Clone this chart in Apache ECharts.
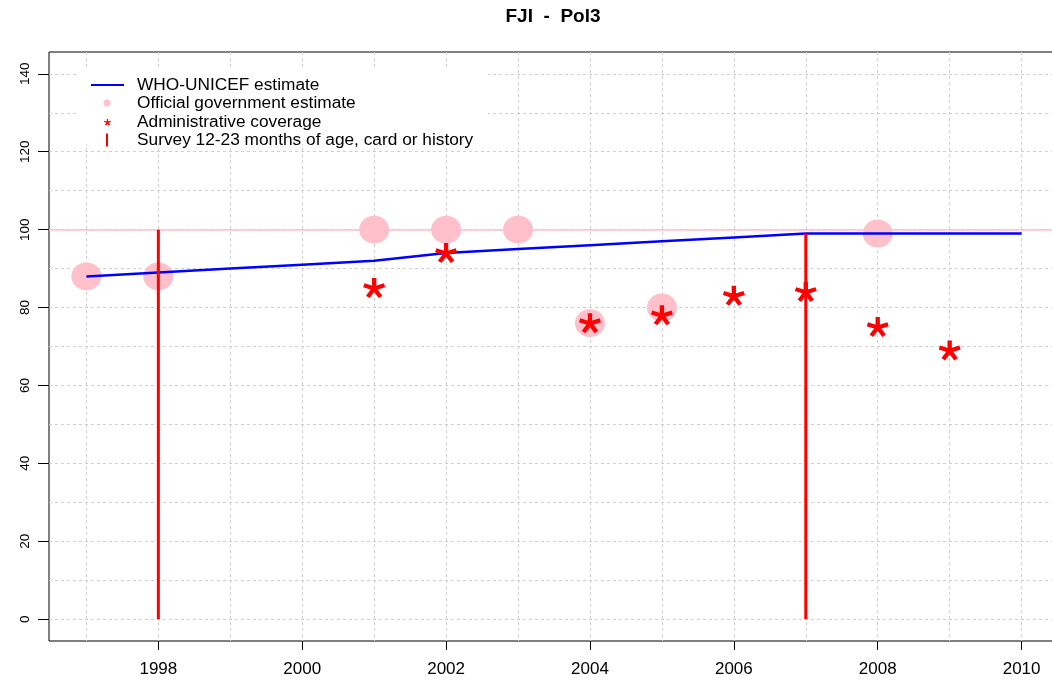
<!DOCTYPE html>
<html>
<head>
<meta charset="utf-8">
<script src="https://cdn.jsdelivr.net/npm/echarts@6/dist/echarts.min.js"></script>
<style>
html,body{margin:0;padding:0;background:#fff;}
#chart{width:1052px;height:680px;}
</style>
</head>
<body>
<div id="chart"></div>
<script>
// ---- data ----
const years = [1997, 1998, 1999, 2000, 2001, 2002, 2003, 2004, 2005, 2006, 2007, 2008, 2009, 2010];
const whoUnicef = [88, 89, 90, 91, 92, 94, 95, 96, 97, 98, 99, 99, 99, 99];
const officialYears = [1997, 1998, 2001, 2002, 2003, 2004, 2005, 2008];
const officialValues = [88, 88, 100, 100, 100, 76, 80, 99];
const adminYears = [2001, 2002, 2004, 2005, 2006, 2007, 2008, 2009];
const adminValues = [85, 94, 76, 78, 83, 84, 75, 69];
const surveyYears = [1998, 2007];
const surveyValues = [100, 99];
const xTickLabels = [1998, 2000, 2002, 2004, 2006, 2008, 2010];
const yTickLabels = [0, 20, 40, 60, 80, 100, 120, 140];
const xGridValues = years;
const yGridValues = [0, 10, 20, 30, 40, 50, 60, 70, 80, 90, 100, 110, 120, 130, 140];
const referenceLine = 100;
const titleText = 'FJI  -  Pol3';
const names = ['WHO-UNICEF estimate', 'Official government estimate', 'Administrative coverage', 'Survey 12-23 months of age, card or history'];

// ---- helpers ----
function zip(a, b) { return a.map((v, i) => [v, b[i]]); }
function starPath() {
  const L = 10, w = 2.0;
  let d = '';
  for (let k = 0; k < 5; k++) {
    const a = -Math.PI / 2 + k * 2 * Math.PI / 5;
    const ux = Math.cos(a), uy = Math.sin(a), px = -uy, py = ux;
    const pts = [[px * w, py * w], [px * w + ux * L, py * w + uy * L], [-px * w + ux * L, -py * w + uy * L], [-px * w, -py * w]];
    d += 'M' + pts.map(p => p[0].toFixed(3) + ',' + p[1].toFixed(3)).join('L') + 'Z';
  }
  return 'path://' + d;
}
const STAR = starPath();
const FONT = '"Liberation Sans", Arial, Helvetica, sans-serif';
const gridLine = { show: true, lineStyle: { color: '#cfcfcf', type: [3, 3], width: 1 } };

const chart = echarts.init(document.getElementById('chart'), null, { renderer: 'canvas' });

function legendAt(name, icon, left, top, w, h, pad) {
  return {
    data: [{ name: name, icon: icon }],
    orient: 'vertical', left: left, top: top, padding: 0,
    itemWidth: w, itemHeight: h, selectedMode: false,
    itemStyle: { borderWidth: 0 },
    textStyle: { fontFamily: FONT, fontSize: 17.3, color: '#000', padding: [0, 0, 0, pad] }
  };
}

const option = {
  animation: false,
  backgroundColor: '#fff',
  title: {
    text: titleText, left: 553, top: 7, padding: 0, textAlign: 'center',
    textStyle: { fontFamily: FONT, fontWeight: 'bold', fontSize: 19, color: '#000' }
  },
  graphic: [{
    type: 'rect', z: 1, silent: true,
    shape: { x: 78, y: 68, width: 410, height: 76 },
    style: { fill: '#fff' }
  }],
  legend: [
    legendAt(names[0], 'rect', 91, 76.5, 33, 2, 8),
    legendAt(names[1], 'circle', 103.5, 94.5, 7, 7, 21.5),
    legendAt(names[2], STAR, 104, 113.8, 7, 7, 21),
    legendAt(names[3], 'rect', 106, 131.5, 2, 13, 24)
  ],
  grid: {
    left: 49, top: 52, width: 1010, height: 589,
    outerBoundsMode: 'none', containLabel: false,
    show: true, borderColor: '#000', borderWidth: 1, backgroundColor: 'transparent'
  },
  xAxis: [{
    type: 'value', min: 1996.48, max: 2010.52, position: 'bottom',
    axisLine: { show: false, onZero: false },
    axisTick: { show: false, customValues: xGridValues },
    axisLabel: { show: false, customValues: xGridValues },
    splitLine: gridLine
  }, {
    type: 'value', min: 1996.48, max: 2010.52, position: 'bottom',
    axisLine: { show: false, onZero: false },
    axisTick: { show: true, length: 9, customValues: xTickLabels, lineStyle: { color: '#000' } },
    axisLabel: { show: true, customValues: xTickLabels, margin: 20, fontFamily: FONT, fontSize: 17, color: '#000', formatter: v => String(v) },
    splitLine: { show: false }
  }],
  yAxis: [{
    type: 'value', min: -5.6, max: 145.6, position: 'left',
    axisLine: { show: false, onZero: false },
    axisTick: { show: false, customValues: yGridValues },
    axisLabel: { show: false, customValues: yGridValues },
    splitLine: gridLine
  }, {
    type: 'value', min: -5.6, max: 145.6, position: 'left',
    axisLine: { show: false, onZero: false },
    axisTick: { show: true, length: 11, customValues: yTickLabels, lineStyle: { color: '#000' } },
    axisLabel: { show: true, customValues: yTickLabels, rotate: 90, margin: 17, fontFamily: FONT, fontSize: 13.5, color: '#000', formatter: v => String(v) },
    splitLine: { show: false }
  }],
  series: [{
    name: names[0], type: 'line', xAxisIndex: 0, yAxisIndex: 0,
    data: zip(years, whoUnicef), symbol: 'none', z: 3,
    color: '#0000FF', lineStyle: { color: '#0000FF', width: 2.5 },
    markLine: {
      silent: true, symbol: 'none', label: { show: false }, z: 1,
      lineStyle: { color: '#FFC0CB', type: 'solid', width: 1.5, opacity: 1 },
      data: [{ yAxis: referenceLine }]
    }
  }, {
    name: names[1], type: 'scatter', xAxisIndex: 0, yAxisIndex: 0,
    data: zip(officialYears, officialValues), symbol: 'circle', symbolSize: [30, 28], z: 2,
    itemStyle: { color: '#FFC0CB', opacity: 1 }
  }, {
    name: names[2], type: 'scatter', xAxisIndex: 0, yAxisIndex: 0,
    data: zip(adminYears, adminValues), symbol: STAR, symbolSize: [22, 20], z: 5,
    itemStyle: { color: '#FF0000', opacity: 1 }
  }, {
    name: names[3], type: 'bar', xAxisIndex: 0, yAxisIndex: 0,
    data: zip(surveyYears, surveyValues), barWidth: 3, z: 4,
    itemStyle: { color: '#FF0000' }
  }]
};
chart.setOption(option);
</script>
</body>
</html>
